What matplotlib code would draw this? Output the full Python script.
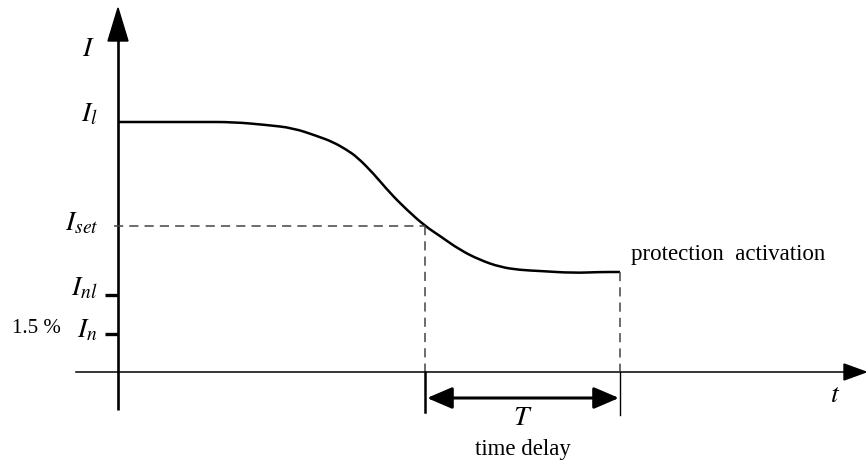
import matplotlib
matplotlib.use("Agg")
import matplotlib.pyplot as plt
from matplotlib.patches import Polygon, PathPatch
from matplotlib.path import Path

plt.rcParams['mathtext.fontset'] = 'stix'
plt.rcParams['font.family'] = ['Liberation Serif', 'DejaVu Serif']

# Current curve I(t) (arbitrary units)
t_curve = [0.00, 0.82, 1.15, 1.49, 1.75, 1.99, 2.15, 2.29, 2.39, 2.55, 2.72,
           2.89, 3.07, 3.22, 3.42, 3.62, 3.82, 4.02, 4.22, 4.55, 4.82, 5.02]
i_curve = [2.50, 2.50, 2.50, 2.47, 2.44, 2.36, 2.30, 2.22, 2.15, 1.99, 1.79,
           1.62, 1.46, 1.36, 1.22, 1.12, 1.05, 1.02, 1.01, 0.99, 1.00, 1.00]

# Characteristic levels
level_names = [r'$I_l$', r'$I_{set}$', r'$I_{nl}$', r'$I_n$']
level_values = [2.50, 1.46, 0.77, 0.38]
I_l, I_set, I_nl, I_n = level_values

# Time delay interval
t_start, t_end = 3.07, 5.02
I_end = 1.00

fig = plt.figure(figsize=(8.66, 4.61), dpi=100)
ax = fig.add_axes([0, 0, 1, 1])
ax.set_xlim(-1.18, 7.48)
ax.set_ylim(-0.89, 3.72)
ax.axis('off')

# Axes lines with arrowheads
ax.plot([0, 0], [-0.38, 3.35], color='black', lw=1.9, solid_capstyle='butt')
ax.add_patch(Polygon([[0, 3.64], [-0.10, 3.31], [0.10, 3.31]], closed=True,
                     color='black'))
ax.plot([-0.42, 7.28], [0, 0], color='black', lw=1.1)
ax.add_patch(Polygon([[7.48, 0], [7.26, 0.08], [7.26, -0.08]], closed=True,
                     color='black'))

# Tick marks for I_nl and I_n
for v in (I_nl, I_n):
    ax.plot([-0.13, 0], [v, v], color='black', lw=2.4, solid_capstyle='butt')

# Curve, drawn smoothly through the read points (quadratic midpoint smoothing)
pts = list(zip(t_curve, i_curve))
verts = [pts[0]]
codes = [Path.MOVETO]
for k in range(1, len(pts) - 1):
    mid = ((pts[k][0] + pts[k + 1][0]) / 2, (pts[k][1] + pts[k + 1][1]) / 2)
    verts += [pts[k], mid]
    codes += [Path.CURVE3, Path.CURVE3]
verts.append(pts[-1])
codes.append(Path.LINETO)
ax.add_patch(PathPatch(Path(verts, codes), facecolor='none', edgecolor='black',
                       lw=1.8, capstyle='butt'))

# Dashed guide lines
dash_kw = dict(color='#444444', lw=1.1, dashes=(6, 4))
ax.plot([-0.04, t_start], [I_set, I_set], **dash_kw)
ax.plot([t_start, t_start], [I_set, 0], **dash_kw)
ax.plot([t_end, t_end], [I_end, 0], **dash_kw)

# Solid extensions below the time axis
ax.plot([t_start, t_start], [0, -0.40], color='black', lw=1.8)
ax.plot([t_end, t_end], [0, -0.43], color='black', lw=1.0)

# Double arrow for T
ax.annotate('', xy=(t_end - 0.01, -0.26), xytext=(t_start + 0.02, -0.26),
            arrowprops=dict(arrowstyle='<|-|>,head_length=0.7,head_width=0.3',
                            color='black', lw=2.2,
                            mutation_scale=22, shrinkA=0, shrinkB=0))

# Labels
ax.text(-0.30, 3.23, r'$I$', fontsize=20, ha='center', va='center')
ax.text(-0.20, 2.57, level_names[0], fontsize=20, ha='right', va='center')
ax.text(-0.20, I_set + 0.02, level_names[1], fontsize=20, ha='right', va='center')
ax.text(-0.20, I_nl + 0.06, level_names[2], fontsize=20, ha='right', va='center')
ax.text(-0.20, I_n + 0.03, level_names[3], fontsize=20, ha='right', va='center')
ax.text(-0.57, I_n + 0.06, '1.5 %', fontsize=15, ha='right', va='center')
ax.text(7.17, -0.23, r'$t$', fontsize=20, ha='center', va='center')
ax.text((t_start + t_end) / 2, -0.46, r'$T$', fontsize=20, ha='center', va='center')
ax.text((t_start + t_end) / 2, -0.77, 'time delay', fontsize=16.4,
        ha='center', va='center')
ax.text(t_end + 0.11, 1.18, 'protection  activation', fontsize=16.5,
        ha='left', va='center')

fig.savefig('out.png', dpi=100)
